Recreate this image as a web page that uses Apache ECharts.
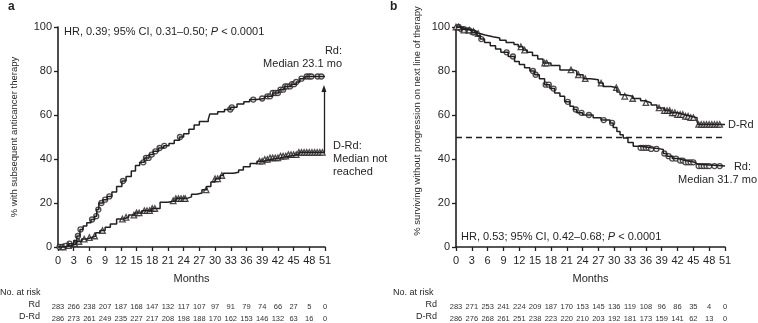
<!DOCTYPE html>
<html>
<head>
<meta charset="utf-8">
<script src="https://cdn.jsdelivr.net/npm/echarts@6/dist/echarts.min.js"></script>
<style>
  html, body { margin: 0; padding: 0; background: #fff; }
  #chart { width: 758px; height: 323px; }
</style>
</head>
<body>
<div id="chart"></div>
<script>
// months shown on the x axis / at-risk columns
const monthTicks = [0, 3, 6, 9, 12, 15, 18, 21, 24, 27, 30, 33, 36, 39, 42, 45, 48, 51]

// panel a: cumulative % with subsequent anticancer therapy, [month, %]
const rdA = [[0,0],[1,0.5],[2,1.5],[3,3],[3.6,5],[4.2,8],[4.8,9.5],[5.5,11],[6.3,12.5],[7,14],[7.4,17],[7.8,20],[8.6,21.5],[9.4,23],[10.3,25],[11.2,27.5],[12.2,30],[13,32],[14,34.5],[14.8,37],[15.6,38.5],[16.5,40.5],[17.4,42],[18.2,43.5],[19.2,45],[20.2,46],[21.2,47],[22.2,48.5],[23.2,50],[24,51.5],[25,53.5],[26,55.5],[27,57],[28.7,58],[29,60.5],[30.5,61.5],[31.8,62.5],[33,63.5],[34.2,65],[35.5,66],[36.6,67],[38,67.5],[39.5,68.5],[41,70],[42.2,71.5],[43.2,73],[44.5,74],[45.5,75],[46.2,76.5],[47.2,77.5],[51,77.5]]
const drdA = [[0,0],[1.3,0.6],[2.5,1.5],[3.5,2.5],[4.5,3.6],[5.5,4.3],[6.4,5],[7.2,6.5],[8,7.5],[9,9],[10,10.5],[11.2,12.7],[12.4,13.5],[13.5,14.5],[14.7,15.5],[16,16.5],[17.9,17.5],[19.5,20.3],[21,21],[22.5,22],[24.5,22.8],[25.5,24],[26.5,24.5],[27.5,26],[28.4,27.5],[29.2,29.5],[30,31],[31,32.5],[31.6,33.5],[33.5,34],[34.5,35],[35.4,36.5],[36.7,38],[38,39],[39.2,39.8],[40.5,40.5],[42.4,41.3],[44,42],[46,43],[51,43]]
const rdACensor = [0.3,0.8,1.5,2.2,3.8,4.3,6.5,7.3,7.7,8.3,9,9.8,12.4,16.3,16.8,17.3,17.9,18.6,19.4,20.3,23.3,32.9,33.2,37.3,39,40,40.5,41,41.5,42,42.5,43,43.4,43.8,44.3,44.7,45.1,45.5,46.5,47.5,48,48.4,49.6,50.3]
const drdACensor = [1,2,3.2,4,5,6,7,8.5,12.3,13,14.5,15,15.5,16.5,17,17.5,18,18.5,22,22.5,23,23.5,24,24.3,28.3,30,30.5,31.3,38.5,39,39.5,40,40.5,41,41.5,42,42.5,43,43.5,44,44.5,45,45.5,46,46.5,47,47.5,48,48.5,49,49.5,50,50.5]
const arrowA = [[50.8, 43], [50.8, 72]]

// panel b: % surviving without progression on next line of therapy
const rdB = [[0,100],[1,99],[2,98.5],[3,97.5],[4,96],[4.6,94.5],[5.4,93],[6.5,91.5],[7.5,90],[8.5,88.5],[9.9,86.6],[11.1,84.3],[12,83],[13,81.5],[14,80],[14.9,78.3],[15.8,76.5],[16.8,73.8],[17.8,72],[18.7,70],[19.7,68.5],[20.6,66],[21.6,64],[22.3,62.5],[22.9,61],[24,60],[26,58.7],[27.5,57.7],[29.2,56.4],[29.8,54.3],[30.5,52.5],[31.1,51],[31.7,49.6],[32.6,47.5],[33.6,45.8],[34.9,45.1],[37,44.6],[38.7,44.3],[39.3,42.5],[40,41.3],[41,40.2],[42.1,39.3],[43.5,38.5],[45.3,37.6],[45.9,36.8],[51,36.8]]
const drdB = [[0,100],[0.8,99.3],[1.5,98.6],[3,98],[4,97],[4.5,96.4],[5.5,95.6],[7,95],[8.3,94],[9.5,93],[11,92],[11.8,91],[12.7,89.5],[13.5,88.5],[14.5,87],[15.5,85.5],[16.5,83.6],[18,82.5],[19.7,80.5],[22.2,80],[22.9,78.3],[24.1,76.5],[25.5,76],[27,74.5],[27.9,73],[29.4,72.4],[30.5,70.5],[31.1,69.2],[32,68.5],[33.5,67.5],[35,66.5],[35.8,65.6],[37,64.5],[38.1,63.2],[39.5,62],[40.6,61],[42,60.2],[43.1,59.4],[44.5,58.8],[45.7,57],[45.9,55.7],[51,55.7]]
const rdBCensor = [0.5,1,1.5,2,2.5,3.3,4.8,9.6,10.8,14.6,15.1,17,17.6,18.5,21.2,22.7,23.8,25.2,28,29.6,35,35.5,36,36.5,37,38,39.5,40.3,41,41.7,42.5,43,43.5,44,44.5,45,46,46.5,47,47.5,48,49,50]
const drdBCensor = [0,0.5,1.5,2.5,3.3,4.2,12.3,13,16.8,17.2,21.8,23.2,24.5,27.5,30.4,32,33.5,36,38.5,39.5,40,40.5,41,41.5,42,42.5,43,43.5,44,44.5,45,46,46.5,47,47.5,48,48.5,49,49.5,50]
const medianLineB = 50

// numbers at risk
const rdRiskA = [283,266,238,207,187,168,147,132,117,107,97,91,79,74,66,27,5,0]
const drdRiskA = [286,273,261,249,235,227,217,208,198,188,170,162,153,146,132,63,16,0]
const rdRiskB = [283,271,253,241,224,209,187,170,153,145,136,119,108,96,86,35,4,0]
const drdRiskB = [286,276,268,261,251,238,223,220,210,203,192,181,173,159,141,62,13,0]

const ink = '#231f20'
const font = 'Liberation Sans, Arial, sans-serif'

// y of the step curve at a given month
function stepAt(curve, m) {
  let v = curve[0][1]
  for (const p of curve) {
    if (p[0] <= m) v = p[1]
  }
  return v
}
const censorPts = (curve, months) => months.map((m) => [m, stepAt(curve, m)])

const grids = [
  { left: 58, top: 27, width: 267, height: 221 },
  { left: 456, top: 27, width: 269, height: 221 },
]

function xAxes(gridIndex, riskTop, riskBottom) {
  const base = {
    gridIndex,
    type: 'value',
    min: 0,
    max: 51,
    interval: 3,
    splitLine: { show: false },
  }
  const riskAxis = (arr, offset) => ({
    ...base,
    position: 'bottom',
    offset,
    axisLine: { show: false },
    axisTick: { show: false },
    axisLabel: {
      margin: 6,
      fontSize: 7.5,
      color: '#333',
      fontFamily: font,
      formatter: (v) => String(arr[monthTicks.indexOf(v)]),
    },
  })
  return [
    {
      ...base,
      name: 'Months',
      nameLocation: 'middle',
      nameGap: 26,
      nameTextStyle: { fontSize: 11, color: ink, fontFamily: font },
      axisLine: { lineStyle: { color: ink, width: 1.6 } },
      axisTick: { length: 4, lineStyle: { color: ink, width: 1.3 } },
      axisLabel: { margin: 8, fontSize: 11, color: ink, fontFamily: font },
    },
    riskAxis(riskTop, 50),
    riskAxis(riskBottom, 62),
  ]
}

function yAxis(gridIndex, name, nameGap) {
  return {
    gridIndex,
    type: 'value',
    min: 0,
    max: 100,
    interval: 20,
    name,
    nameLocation: 'middle',
    nameGap,
    nameTextStyle: { fontSize: 9.5, color: ink, fontFamily: font },
    axisLine: { show: true, lineStyle: { color: ink, width: 1.6 } },
    axisTick: { show: true, length: 4, lineStyle: { color: ink, width: 1.3 } },
    axisLabel: { margin: 6, fontSize: 11, color: ink, fontFamily: font },
    splitLine: { show: false },
  }
}

function curve(data, xAxisIndex, yAxisIndex, extra) {
  return {
    type: 'line',
    xAxisIndex,
    yAxisIndex,
    data,
    step: 'end',
    symbol: 'none',
    silent: true,
    lineStyle: { color: ink, width: 1.5 },
    ...extra,
  }
}

function marks(data, xAxisIndex, yAxisIndex, symbol) {
  return {
    type: 'scatter',
    xAxisIndex,
    yAxisIndex,
    data,
    symbol,
    symbolSize: symbol === 'circle' ? 5 : 5.5,
    silent: true,
    itemStyle: { color: '#fff', borderColor: ink, borderWidth: 1.3 },
  }
}

const text = (x, y, str, opts) => ({
  type: 'text',
  x,
  y,
  style: { text: str, fontSize: 11, fill: ink, fontFamily: font, ...opts },
})

const chart = echarts.init(document.getElementById('chart'), null, { renderer: 'canvas' })

chart.setOption({
  animation: false,
  backgroundColor: '#fff',
  grid: grids,
  xAxis: [...xAxes(0, rdRiskA, drdRiskA), ...xAxes(1, rdRiskB, drdRiskB)],
  yAxis: [
    yAxis(0, '% with subsequent anticancer therapy', 39),
    { ...yAxis(1, '', 0), name: '' },
  ],
  series: [
    curve(rdA, 0, 0),
    curve(drdA, 0, 0, {
      markLine: {
        silent: true,
        symbol: ['none', 'triangle'],
        symbolSize: [5, 7],
        label: { show: false },
        lineStyle: { color: ink, width: 1.3, type: 'solid' },
        data: [[{ coord: arrowA[0] }, { coord: arrowA[1] }]],
      },
    }),
    marks(censorPts(rdA, rdACensor), 0, 0, 'circle'),
    marks(censorPts(drdA, drdACensor), 0, 0, 'triangle'),
    curve(rdB, 3, 1, {
      markLine: {
        silent: true,
        symbol: 'none',
        label: { show: false },
        lineStyle: { color: ink, width: 1.4, type: [6, 4] },
        data: [{ yAxis: medianLineB }],
      },
    }),
    curve(drdB, 3, 1),
    marks(censorPts(rdB, rdBCensor), 3, 1, 'circle'),
    marks(censorPts(drdB, drdBCensor), 3, 1, 'triangle'),
  ],
  graphic: [
    text(8, 1, 'a', { fontSize: 12, fontWeight: 'bold' }),
    text(390, 1, 'b', { fontSize: 12, fontWeight: 'bold' }),
    {
      type: 'text', x: 417, y: 121, rotation: Math.PI / 2,
      style: {
        text: '% surviving without progression on next line of therapy',
        fontSize: 9.5, fill: ink, fontFamily: font, align: 'center', verticalAlign: 'middle',
      },
    },
    {
      type: 'text', x: 64, y: 26,
      style: {
        text: 'HR, 0.39; 95% CI, 0.31–0.50; {i|P} < 0.0001',
        fontSize: 11, fill: ink, fontFamily: font,
        rich: { i: { fontStyle: 'italic', fontSize: 11, fill: ink, fontFamily: font } },
      },
    },
    {
      type: 'text', x: 461, y: 231,
      style: {
        text: 'HR, 0.53; 95% CI, 0.42–0.68; {i|P} < 0.0001',
        fontSize: 11, fill: ink, fontFamily: font,
        rich: { i: { fontStyle: 'italic', fontSize: 11, fill: ink, fontFamily: font } },
      },
    },
    text(342, 45, 'Rd:', { align: 'right' }),
    text(342, 58, 'Median 23.1 mo', { align: 'right' }),
    text(333, 140, 'D-Rd:'),
    text(333, 153, 'Median not'),
    text(333, 166, 'reached'),
    text(728, 119, 'D-Rd'),
    text(751, 161, 'Rd:', { align: 'right' }),
    text(757, 174, 'Median 31.7 mo', { align: 'right' }),
    text(0, 288, 'No. at risk', { fontSize: 9 }),
    text(40, 300, 'Rd', { fontSize: 9, align: 'right' }),
    text(40, 312, 'D-Rd', { fontSize: 9, align: 'right' }),
    text(393, 288, 'No. at risk', { fontSize: 9 }),
    text(437, 300, 'Rd', { fontSize: 9, align: 'right' }),
    text(437, 312, 'D-Rd', { fontSize: 9, align: 'right' }),
  ],
})
</script>
</body>
</html>
